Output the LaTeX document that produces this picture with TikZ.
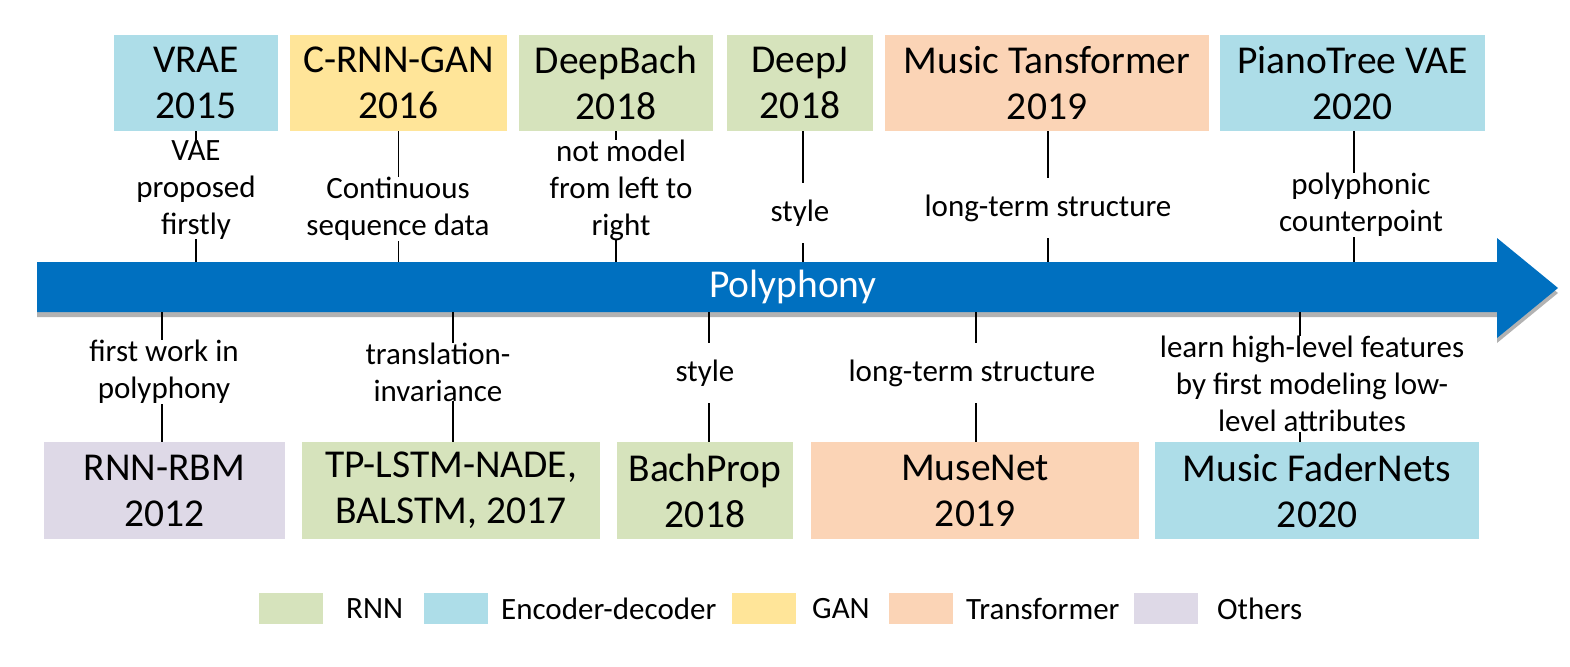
\documentclass[tikz,border=0pt]{standalone}
\usepackage{fontspec}
\setmainfont{Carlito}
\usetikzlibrary{shadows}
\definecolor{cRNN}{HTML}{D6E3BC}
\definecolor{cEnc}{HTML}{ADDDE8}
\definecolor{cGAN}{HTML}{FFE599}
\definecolor{cTr}{HTML}{FBD4B6}
\definecolor{cOth}{HTML}{DED9E7}
\definecolor{arrowblue}{HTML}{0070C0}
\begin{document}
\begin{tikzpicture}[x=1pt,y=-1pt,
  mbox/.style={font=\fontsize{39.5}{46}\selectfont, align=center, inner sep=0pt, minimum height=96pt},
  bbox/.style={mbox, minimum height=97pt},
  lbl/.style={font=\fontsize{31}{37}\selectfont, align=center, fill=white, inner xsep=2pt, inner ysep=0pt},
  lbl1/.style={lbl, minimum height=60pt},
  conn/.style={line width=1.2pt, black},
  sw/.style={minimum width=64pt, minimum height=31pt, inner sep=0pt},
  legt/.style={font=\fontsize{31}{36}\selectfont, anchor=west, inner sep=0pt}
]
\useasboundingbox (0,0) rectangle (1570,666);

% timeline arrow
\fill[arrowblue, drop shadow={shadow xshift=0pt, shadow yshift=-5pt, opacity=0.3, fill=black}]
  (37,262) -- (1497,262) -- (1497,238) -- (1558,288) -- (1497,338) -- (1497,312) -- (37,312) -- cycle;
\coordinate (axtop) at (0,262);
\coordinate (axbot) at (0,312);
\node[text=white, font=\fontsize{39.5}{46}\selectfont, inner sep=0pt] (poly) at (793,287) {Polyphony};

% top boxes
\node[mbox, fill=cEnc, minimum width=164pt] (vrae) at (196,83) {VRAE\\2015};
\node[mbox, fill=cGAN, minimum width=217pt] (crnn) at (398.5,83) {C-RNN-GAN\\2016};
\node[mbox, fill=cRNN, minimum width=194pt] (deepbach) at (616,83) {DeepBach\\2018};
\node[mbox, fill=cRNN, minimum width=146pt] (deepj) at (800,83) {DeepJ\\2018};
\node[mbox, fill=cTr, minimum width=324pt] (mtr) at (1047,83) {Music Tansformer\\2019};
\node[mbox, fill=cEnc, minimum width=265pt] (ptree) at (1352.5,83) {PianoTree VAE\\2020};

% bottom boxes
\node[bbox, fill=cOth, minimum width=241pt] (rnnrbm) at (164.5,490.5) {RNN-RBM\\2012};
\node[bbox, fill=cRNN, minimum width=298pt] (tplstm) at (451,490.5) {TP-LSTM-NADE,\\BALSTM, 2017};
\node[bbox, fill=cRNN, minimum width=176pt] (bachprop) at (705,490.5) {BachProp\\2018};
\node[bbox, fill=cTr, minimum width=328pt] (musenet) at (975,490.5) {MuseNet\\2019};
\node[bbox, fill=cEnc, minimum width=324pt] (fader) at (1317,490.5) {Music FaderNets\\2020};

% connectors top
\draw[conn] (vrae.south) -- (vrae.south |- axtop);
\draw[conn] (crnn.south) -- (crnn.south |- axtop);
\draw[conn] (deepbach.south) -- (deepbach.south |- axtop);
\draw[conn] ([xshift=3pt]deepj.south) -- ([xshift=3pt]deepj.south |- axtop);
\draw[conn] ([xshift=1pt]mtr.south) -- ([xshift=1pt]mtr.south |- axtop);
\draw[conn] ([xshift=1.5pt]ptree.south) -- ([xshift=1.5pt]ptree.south |- axtop);

% connectors bottom
\draw[conn] ([xshift=-2.5pt]rnnrbm.north |- axbot) -- ([xshift=-2.5pt]rnnrbm.north);
\draw[conn] ([xshift=2pt]tplstm.north |- axbot) -- ([xshift=2pt]tplstm.north);
\draw[conn] ([xshift=4pt]bachprop.north |- axbot) -- ([xshift=4pt]bachprop.north);
\draw[conn] ([xshift=1pt]musenet.north |- axbot) -- ([xshift=1pt]musenet.north);
\draw[conn] ([xshift=-17pt]fader.north |- axbot) -- ([xshift=-17pt]fader.north);

% labels top
\node[lbl] (l1) at (196,190) {VAE\\proposed\\firstly};
\node[lbl] (l2) at (398,209) {Continuous\\sequence data};
\node[lbl] (l3) at (621,190) {not model\\from left to\\right};
\node[lbl1] (l4) at (800,213) {style};
\node[lbl1] (l5) at (1048,208) {long-term structure};
\node[lbl] (l6) at (1361,205) {polyphonic\\counterpoint};

% labels bottom
\node[lbl] (b1) at (164,372) {first work in\\polyphony};
\node[lbl] (b2) at (438,372) {translation-\\invariance};
\node[lbl1] (b3) at (705,373) {style};
\node[lbl1] (b4) at (972,373) {long-term structure};
\node[lbl] (b5) at (1312,384) {learn high-level features\\by first modeling low-\\level attributes};

% legend
\node[sw, fill=cRNN] (s1) at (290.5,608.5) {};
\node[legt] (t1) at (346,608.5) {RNN};
\node[sw, fill=cEnc] (s2) at (455.5,608.5) {};
\node[legt] (t2) at (501,608.5) {Encoder-decoder};
\node[sw, fill=cGAN] (s3) at (764,608.5) {};
\node[legt] (t3) at (812,608.5) {GAN};
\node[sw, fill=cTr] (s4) at (921,608.5) {};
\node[legt] (t4) at (966,608.5) {Transformer};
\node[sw, fill=cOth] (s5) at (1166,608.5) {};
\node[legt] (t5) at (1217,608.5) {Others};
\end{tikzpicture}
\end{document}
